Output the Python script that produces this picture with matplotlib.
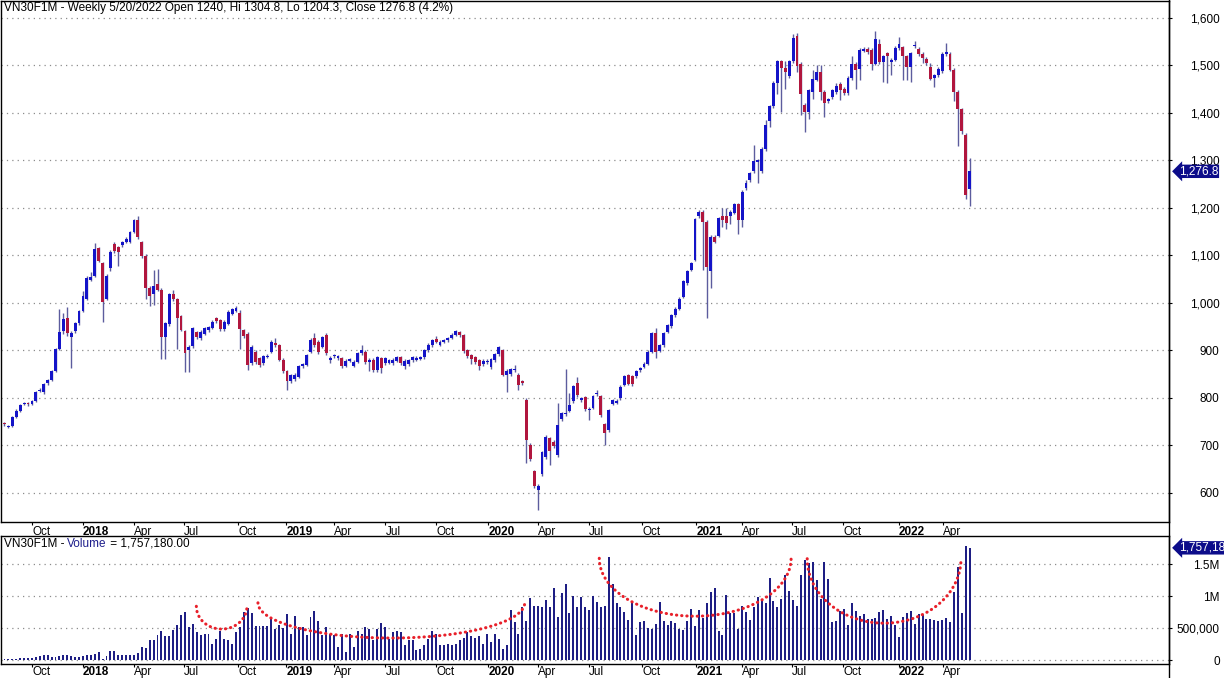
import numpy as np
import matplotlib
matplotlib.use("Agg")
import matplotlib.pyplot as plt
from matplotlib.lines import Line2D
from matplotlib.transforms import blended_transform_factory, ScaledTranslation

plt.rcParams['font.family'] = ['Liberation Sans', 'DejaVu Sans']

# Weekly VN30F1M candles, Aug 2017 .. week of 5/20/2022 (one entry per bar)
opens = [
    748, 739, 741, 760, 773, 787, 789, 787, 794, 814,
    812, 831, 837, 857, 903, 940, 968, 928, 940, 957,
    982, 1009, 1049, 1057, 1115, 1083, 1009, 1074, 1124, 1117,
    1121, 1128, 1128, 1149, 1175, 1128, 1099, 1032, 1018, 1039,
    1028, 929, 955, 1018, 1007, 972, 940, 901, 909, 938,
    925, 935, 942, 948, 967, 963, 944, 956, 977, 983,
    978, 942, 935, 873, 897, 883, 873, 886, 897, 915,
    911, 880, 856, 835, 840, 844, 866, 869, 897, 925,
    918, 908, 933, 880, 887, 883, 883, 867, 878, 867,
    876, 894, 897, 876, 880, 859, 883, 873, 874, 873,
    878, 885, 867, 871, 879, 880, 882, 885, 900, 911,
    923, 912, 918, 921, 926, 933, 938, 932, 900, 890,
    885, 879, 871, 875, 864, 879, 892, 900, 847, 850,
    858, 849, 835, 796, 701, 645, 606, 640, 676, 715,
    708, 680, 756, 765, 773, 794, 831, 795, 801, 774,
    779, 807, 803, 744, 732, 788, 790, 799, 827, 848,
    846, 845, 858, 865, 872, 897, 936, 899, 911, 939,
    951, 974, 988, 1013, 1041, 1069, 1090, 1182, 1192, 1171,
    1066, 1139, 1141, 1183, 1183, 1182, 1190, 1208, 1175, 1241,
    1259, 1277, 1296, 1277, 1324, 1382, 1415, 1463, 1508, 1494,
    1477, 1508, 1561, 1503, 1417, 1401, 1444, 1470, 1486, 1444,
    1424, 1434, 1444, 1460, 1451, 1441, 1474, 1503, 1493, 1530,
    1535, 1533, 1503, 1545, 1507, 1526, 1507, 1512, 1537, 1538,
    1519, 1497, 1540, 1535, 1524, 1514, 1497, 1474, 1479, 1488,
    1524, 1524, 1491, 1444, 1408, 1354, 1240,
]
highs = [
    750, 743, 761, 776, 787, 792, 791, 796, 814, 820,
    832, 840, 859, 905, 987, 979, 991, 940, 960, 985,
    1025, 1056, 1065, 1126, 1118, 1086, 1060, 1112, 1128, 1120,
    1131, 1138, 1152, 1177, 1182, 1131, 1102, 1036, 1069, 1071,
    1032, 960, 1021, 1028, 1010, 975, 943, 912, 950, 941,
    942, 949, 952, 963, 970, 966, 963, 984, 990, 993,
    985, 945, 938, 911, 900, 886, 891, 892, 921, 925,
    914, 883, 859, 850, 852, 870, 874, 893, 925, 937,
    921, 931, 937, 888, 893, 891, 886, 881, 884, 879,
    897, 911, 900, 884, 883, 888, 886, 886, 882, 883,
    888, 888, 881, 882, 888, 887, 888, 903, 915, 924,
    930, 921, 924, 928, 936, 943, 941, 935, 903, 893,
    888, 882, 881, 881, 884, 895, 910, 903, 860, 863,
    870, 852, 838, 800, 705, 649, 618, 688, 721, 718,
    711, 789, 770, 860, 810, 827, 843, 802, 804, 780,
    806, 816, 806, 747, 777, 798, 797, 826, 849, 851,
    849, 859, 865, 875, 900, 939, 946, 914, 939, 956,
    977, 991, 1012, 1048, 1069, 1086, 1179, 1195, 1195, 1174,
    1142, 1142, 1181, 1199, 1199, 1195, 1211, 1211, 1237, 1258,
    1276, 1333, 1303, 1327, 1385, 1417, 1466, 1511, 1511, 1510,
    1511, 1565, 1568, 1506, 1420, 1450, 1490, 1500, 1500, 1447,
    1432, 1451, 1463, 1465, 1454, 1477, 1519, 1506, 1536, 1538,
    1538, 1536, 1573, 1555, 1522, 1529, 1515, 1540, 1559, 1541,
    1522, 1529, 1552, 1538, 1527, 1517, 1505, 1482, 1496, 1527,
    1547, 1527, 1494, 1447, 1411, 1357, 1304.8,
]
lows = [
    741, 736, 739, 757, 770, 784, 783, 785, 792, 812,
    808, 828, 835, 855, 900, 935, 930, 862, 936, 954,
    980, 1005, 1045, 1054, 1086, 959, 1005, 1068, 1105, 1078,
    1118, 1125, 1125, 1146, 1135, 1095, 1007, 993, 996, 1024,
    881, 881, 952, 1003, 903, 940, 855, 855, 905, 924,
    922, 932, 939, 945, 958, 940, 940, 953, 974, 980,
    902, 926, 859, 870, 872, 865, 870, 883, 894, 907,
    877, 852, 817, 831, 836, 841, 862, 866, 894, 907,
    893, 905, 891, 874, 884, 880, 862, 864, 875, 864,
    873, 891, 872, 856, 855, 855, 852, 870, 871, 870,
    875, 870, 860, 868, 876, 877, 879, 882, 897, 908,
    915, 909, 915, 918, 923, 930, 929, 895, 884, 871,
    872, 858, 868, 871, 860, 876, 889, 845, 812, 846,
    855, 817, 827, 662, 667, 610, 564, 636, 672, 659,
    695, 676, 752, 761, 770, 790, 801, 792, 773, 753,
    776, 804, 759, 701, 729, 785, 787, 796, 824, 826,
    825, 842, 855, 862, 869, 894, 883, 896, 908, 936,
    948, 971, 985, 1010, 1037, 1066, 1087, 1179, 1069, 967,
    1031, 1125, 1138, 1160, 1155, 1165, 1187, 1145, 1160, 1238,
    1255, 1274, 1252, 1274, 1320, 1370, 1410, 1440, 1402, 1450,
    1473, 1505, 1485, 1396, 1359, 1386, 1430, 1466, 1427, 1392,
    1420, 1430, 1440, 1427, 1437, 1437, 1470, 1451, 1469, 1527,
    1524, 1490, 1500, 1503, 1465, 1462, 1479, 1508, 1533, 1469,
    1469, 1465, 1537, 1520, 1505, 1500, 1468, 1455, 1475, 1484,
    1520, 1487, 1424, 1330, 1355, 1218, 1204.3,
]
closes = [
    744, 741, 759, 773, 784, 790, 786, 794, 812, 817,
    830, 837, 857, 903, 938, 965, 936, 936, 957, 982,
    1014, 1053, 1054, 1113, 1089, 1001, 1057, 1108, 1110, 1108,
    1128, 1135, 1149, 1174, 1138, 1099, 1032, 1014, 1035, 1028,
    929, 957, 1018, 1007, 968, 943, 894, 908, 947, 928,
    939, 946, 949, 960, 962, 944, 960, 981, 987, 990,
    944, 930, 869, 908, 876, 869, 888, 889, 918, 911,
    880, 856, 835, 847, 849, 867, 871, 890, 922, 911,
    897, 928, 895, 883, 890, 888, 866, 878, 881, 876,
    894, 901, 876, 880, 859, 885, 862, 883, 879, 880,
    885, 874, 878, 879, 885, 884, 885, 900, 912, 921,
    918, 918, 921, 925, 933, 940, 932, 899, 888, 881,
    876, 867, 878, 878, 881, 892, 907, 849, 857, 860,
    861, 828, 831, 711, 671, 614, 614, 685, 718, 687,
    699, 742, 767, 769, 784, 824, 805, 799, 777, 777,
    803, 810, 763, 725, 774, 795, 794, 823, 846, 830,
    829, 856, 862, 872, 897, 936, 897, 911, 936, 953,
    974, 988, 1009, 1045, 1066, 1083, 1176, 1192, 1171, 1076,
    1139, 1129, 1178, 1175, 1169, 1192, 1208, 1175, 1234, 1252,
    1273, 1298, 1300, 1324, 1375, 1414, 1463, 1508, 1494, 1485,
    1508, 1558, 1498, 1440, 1401, 1447, 1472, 1486, 1444, 1420,
    1428, 1448, 1456, 1449, 1441, 1474, 1503, 1491, 1533, 1535,
    1528, 1502, 1556, 1507, 1519, 1519, 1512, 1537, 1544, 1519,
    1497, 1526, 1543, 1524, 1516, 1505, 1472, 1479, 1493, 1524,
    1528, 1491, 1444, 1408, 1361, 1226, 1276.8,
]
# weekly volume, thousands of contracts
volumes_k = [
    26, 21, 16, 26, 31, 31, 36, 41, 52, 72,
    78, 78, 52, 52, 62, 78, 83, 62, 52, 52,
    72, 78, 88, 103, 129, 21, 67, 140, 140, 78,
    78, 78, 78, 88, 114, 207, 191, 310, 310, 398,
    450, 372, 372, 476, 553, 708, 760, 527, 569, 439,
    403, 408, 414, 259, 336, 465, 336, 321, 259, 439,
    517, 750, 817, 734, 533, 543, 533, 543, 646, 491,
    558, 507, 724, 414, 698, 517, 517, 403, 672, 776,
    620, 388, 517, 414, 388, 207, 414, 129, 414, 207,
    465, 414, 527, 491, 310, 491, 589, 527, 336, 439,
    465, 439, 233, 321, 310, 165, 181, 233, 336, 465,
    414, 243, 233, 259, 233, 259, 310, 352, 439, 372,
    352, 372, 259, 414, 284,
    414, 336, 181, 243, 786, 595, 414, 838, 620, 967,
    853, 853, 827, 946, 827, 1137, 672, 1055, 1189, 734,
    1008, 838, 993, 827, 791, 1008, 915, 827, 843, 1618,
    1189, 894, 827, 750, 631, 905, 398, 605, 610, 501,
    491, 569, 915, 610, 553, 620, 579, 491, 476, 610,
    801, 533, 791, 662, 889, 1060, 1127, 465, 398, 1018,
    734, 734, 491, 853, 750, 631, 827, 982, 920, 889,
    1282, 920, 827, 956, 1334, 1075, 941, 843, 1329, 1561,
    1515, 1535, 1256, 956, 1541, 1267, 595, 620, 776, 801,
    558, 889, 776, 698, 724, 646, 646, 657, 750, 786,
    646, 698, 558, 362, 682, 734, 776, 569, 724, 708,
    646, 646, 631, 610, 631, 662, 595, 1060, 1458, 739,
    1784, 1757.18,
]

# x-axis month/year labels, placed at bar positions
tick_pos = [7.1, 19.9, 33.1, 45.8, 59.6, 71.8, 84.1, 97.1, 110.1, 123.3,
            136.0, 149.0, 162.5, 176.3, 188.0, 200.8, 213.8, 228.0, 239.2]
tick_labels = ['Oct', '2018', 'Apr', 'Jul', 'Oct', '2019', 'Apr', 'Jul', 'Oct', '2020',
               'Apr', 'Jul', 'Oct', '2021', 'Apr', 'Jul', 'Oct', '2022', 'Apr']

price_ticks = list(range(600, 1700, 100))
vol_ticks = [0, 500000, 1000000, 1500000]
vol_tick_labels = ['0', '500,000', '1M', '1.5M']

# red dotted arcs drawn over volume: (left bar, right bar, top volume, bottom volume)
arcs = [(48.9, 61.8, 844e3, 488e3),
        (64.6, 132.6, 898e3, 348e3),
        (151.6, 200.5, 1594e3, 689e3),
        (204.6, 243.8, 1587e3, 580e3)]

last_close = closes[-1]
last_volume = 1757180

o = np.array(opens, dtype=float)
h = np.array(highs, dtype=float)
l = np.array(lows, dtype=float)
c = np.array(closes, dtype=float)
v = np.array(volumes_k, dtype=float) * 1000
x = np.arange(len(o))

BLUE = '#1414c8'
RED = '#b0163e'
WICK = '#5c5c9e'
NAVY = '#0c0c8a'
FS = 8.5

W, H = 1224, 678
fig = plt.figure(figsize=(W / 100, H / 100), dpi=100)
ax = fig.add_axes([0.5 / W, 1 - 521.7 / H, 1168.5 / W, 521.2 / H])
axv = fig.add_axes([0.5 / W, 1 - 664 / H, 1168.5 / W, 128 / H])

xlim = (-4 / 3.925, (1169 - 4) / 3.925)

# candles
body_col = [BLUE if cc >= oo else RED for oo, cc in zip(o, c)]
ax.vlines(x, l, h, color=WICK, lw=1, zorder=2)
ax.bar(x, np.abs(c - o), bottom=np.minimum(o, c), width=0.74,
       color=body_col, linewidth=0, zorder=3)
ax.set_xlim(*xlim)
ax.set_ylim(539.2, 1636.4)

# volume
axv.bar(x, v, width=0.5, color='#1e1e84', linewidth=0, zorder=2)
axv.set_xlim(*xlim)
axv.set_ylim(-57.8e3, 1.942e6)

s = np.linspace(0, np.pi, 80)
for left, right, top, bottom in arcs:
    cx, rx = (left + right) / 2, (right - left) / 2
    axv.plot(cx - rx * np.cos(s), top - (top - bottom) * np.sin(s),
             color='#e8202a', lw=2.2, linestyle=(0, (0.1, 1.6)),
             dash_capstyle='round', zorder=4)

shift = ScaledTranslation(1 / 72, 0, fig.dpi_scale_trans)
for a in (ax, axv):
    a.yaxis.tick_right()
    a.grid(axis='y', color='#8c8c8c', linestyle=(0, (1, 3.3)), linewidth=0.9)
    a.set_axisbelow(True)
    for sp in a.spines.values():
        sp.set_color('black')
        sp.set_linewidth(1)
    a.set_xticks(tick_pos, tick_labels, ha='left')
    a.tick_params(axis='y', length=2.5, pad=34, labelsize=FS, direction='out')
    for lbl in a.get_xticklabels():
        lbl.set_transform(lbl.get_transform() + shift)
        if lbl.get_text().isdigit():
            lbl.set_fontweight('bold')

ax.tick_params(axis='x', length=2.5, pad=0.8, labelsize=FS, direction='out')
axv.tick_params(axis='x', length=2.5, pad=-1.2, labelsize=FS, direction='out')

ax.set_yticks(price_ticks, [f'{p:,}' for p in price_ticks], ha='right')
axv.set_yticks(vol_ticks, vol_tick_labels, ha='right')

# headers
ax.text(3 / 1168.5, 1 - 8 / 521.2,
        'VN30F1M - Weekly 5/20/2022 Open 1240, Hi 1304.8, Lo 1204.3, Close 1276.8 (4.2%)',
        transform=ax.transAxes, va='center', ha='left', fontsize=FS)
t1 = axv.text(3 / 1168.5, 1 - 8 / 128, 'VN30F1M - ', transform=axv.transAxes,
              va='center', ha='left', fontsize=FS)
t2 = axv.annotate('Volume', xy=(1, 0), xycoords=t1, va='bottom', ha='left',
                  fontsize=FS, color='#1e1e8c')
axv.annotate(' = 1,757,180.00', xy=(1, 0), xycoords=t2, va='bottom', ha='left',
             fontsize=FS)

# last value flags on the right scale
tr = blended_transform_factory(ax.transAxes, ax.transData)
ax.text(1 + 10 / 1168.5, last_close, f'{last_close:,.1f}', transform=tr,
        va='center', ha='left', color='white', fontsize=FS, clip_on=False,
        bbox=dict(boxstyle='larrow,pad=0.06', fc=NAVY, ec='none'))
trv = blended_transform_factory(axv.transAxes, axv.transData)
axv.text(1 + 10 / 1168.5, last_volume, f'{last_volume:,}', transform=trv,
         va='center', ha='left', color='white', fontsize=FS, clip_on=False,
         bbox=dict(boxstyle='larrow,pad=0.06', fc=NAVY, ec='none'))

# right scale line runs the full height
fig.add_artist(Line2D([1169 / W, 1169 / W], [0, 1], color='black', lw=1,
                      transform=fig.transFigure))

fig.savefig('out.png', dpi=100)
